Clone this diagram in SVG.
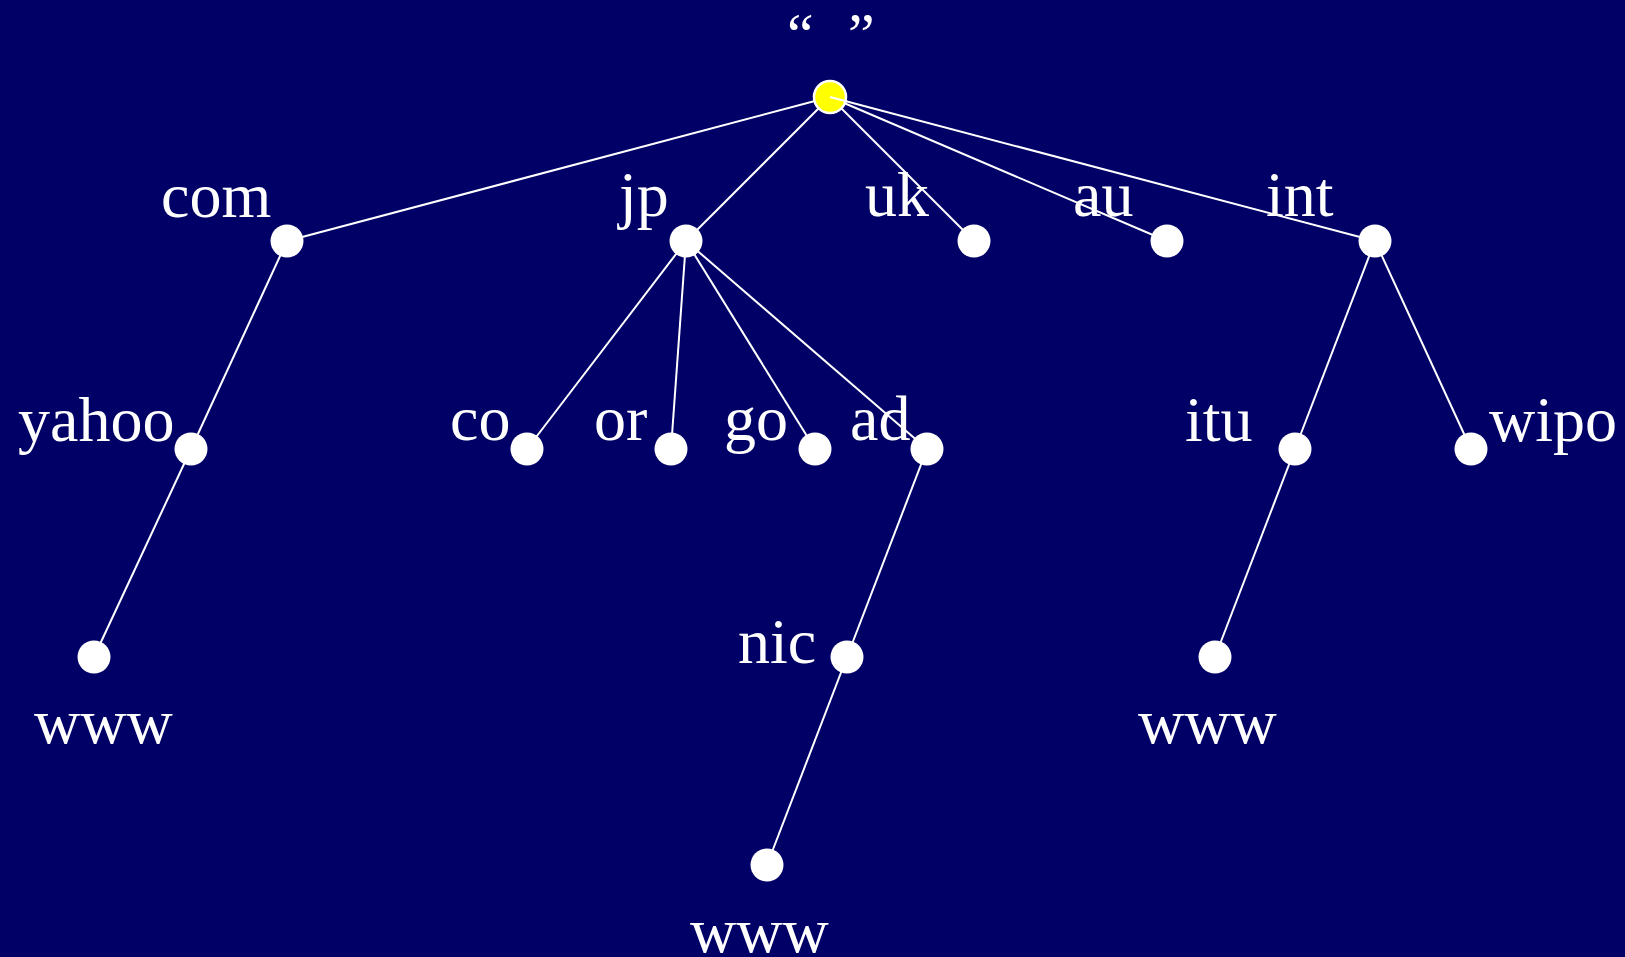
<svg xmlns="http://www.w3.org/2000/svg" width="1625" height="957" viewBox="0 0 1625 957">
<style>
.bg{fill:#000066}
.e{stroke:#ffffff;stroke-width:2;fill:none}
.n{fill:#ffffff}
.r{fill:#ffff00;stroke:#ffffff;stroke-width:2.5}
.t{fill:#ffffff;font-family:"Liberation Serif","Times New Roman",serif;font-size:64px}
.q{fill:#ffffff;font-family:"Liberation Serif","Times New Roman",serif;font-size:60px}
</style>
<rect class="bg" x="0" y="0" width="1625" height="957"/>
<g id="connectors">
<line class="e" x1="830" y1="97" x2="287" y2="241"/>
<line class="e" x1="830" y1="97" x2="686" y2="241"/>
<line class="e" x1="830" y1="97" x2="974" y2="241"/>
<line class="e" x1="830" y1="97" x2="1167" y2="241"/>
<line class="e" x1="830" y1="97" x2="1375" y2="241"/>
<line class="e" x1="287" y1="241" x2="191" y2="449"/>
<line class="e" x1="191" y1="449" x2="94" y2="657"/>
<line class="e" x1="686" y1="241" x2="527" y2="449"/>
<line class="e" x1="686" y1="241" x2="671" y2="449"/>
<line class="e" x1="686" y1="241" x2="815" y2="449"/>
<line class="e" x1="686" y1="241" x2="927" y2="449"/>
<line class="e" x1="927" y1="449" x2="847" y2="657"/>
<line class="e" x1="847" y1="657" x2="767" y2="865"/>
<line class="e" x1="1375" y1="241" x2="1295" y2="449"/>
<line class="e" x1="1375" y1="241" x2="1471" y2="449"/>
<line class="e" x1="1295" y1="449" x2="1215" y2="657"/>
</g>
<g id="root"><circle class="r" cx="830" cy="97" r="16"/><line class="e" x1="830" y1="97" x2="847" y2="101.5"/><text class="q" y="54"><tspan x="787">“</tspan><tspan x="848">”</tspan></text></g>
<g id="com"><circle class="n" cx="287" cy="241" r="16.5"/><text class="t" x="161" y="217">com</text></g>
<g id="jp"><circle class="n" cx="686" cy="241" r="16.5"/><text class="t" x="619" y="216">jp</text></g>
<g id="uk"><circle class="n" cx="974" cy="241" r="16.5"/><text class="t" x="865" y="216">uk</text></g>
<g id="au"><circle class="n" cx="1167" cy="241" r="16.5"/><text class="t" x="1073" y="216">au</text></g>
<g id="int"><circle class="n" cx="1375" cy="241" r="16.5"/><text class="t" x="1266" y="216">int</text></g>
<g id="yahoo"><circle class="n" cx="191" cy="449" r="16.5"/><text class="t" x="18" y="441">yahoo</text></g>
<g id="co"><circle class="n" cx="527" cy="449" r="16.5"/><text class="t" x="450" y="440">co</text></g>
<g id="or"><circle class="n" cx="671" cy="449" r="16.5"/><text class="t" x="594" y="440">or</text></g>
<g id="go"><circle class="n" cx="815" cy="449" r="16.5"/><text class="t" x="724" y="440">go</text></g>
<g id="ad"><circle class="n" cx="927" cy="449" r="16.5"/><text class="t" x="850" y="440">ad</text></g>
<g id="itu"><circle class="n" cx="1295" cy="449" r="16.5"/><text class="t" x="1185" y="441">itu</text></g>
<g id="wipo"><circle class="n" cx="1471" cy="449" r="16.5"/><text class="t" x="1489" y="441">wipo</text></g>
<g id="www-yahoo"><circle class="n" cx="94" cy="657" r="16.5"/><text class="t" x="34" y="743">www</text></g>
<g id="nic"><circle class="n" cx="847" cy="657" r="16.5"/><text class="t" x="738" y="663">nic</text></g>
<g id="www-itu"><circle class="n" cx="1215" cy="657" r="16.5"/><text class="t" x="1138" y="743">www</text></g>
<g id="www-nic"><circle class="n" cx="767" cy="865" r="16.5"/><text class="t" x="690" y="952">www</text></g>
</svg>
